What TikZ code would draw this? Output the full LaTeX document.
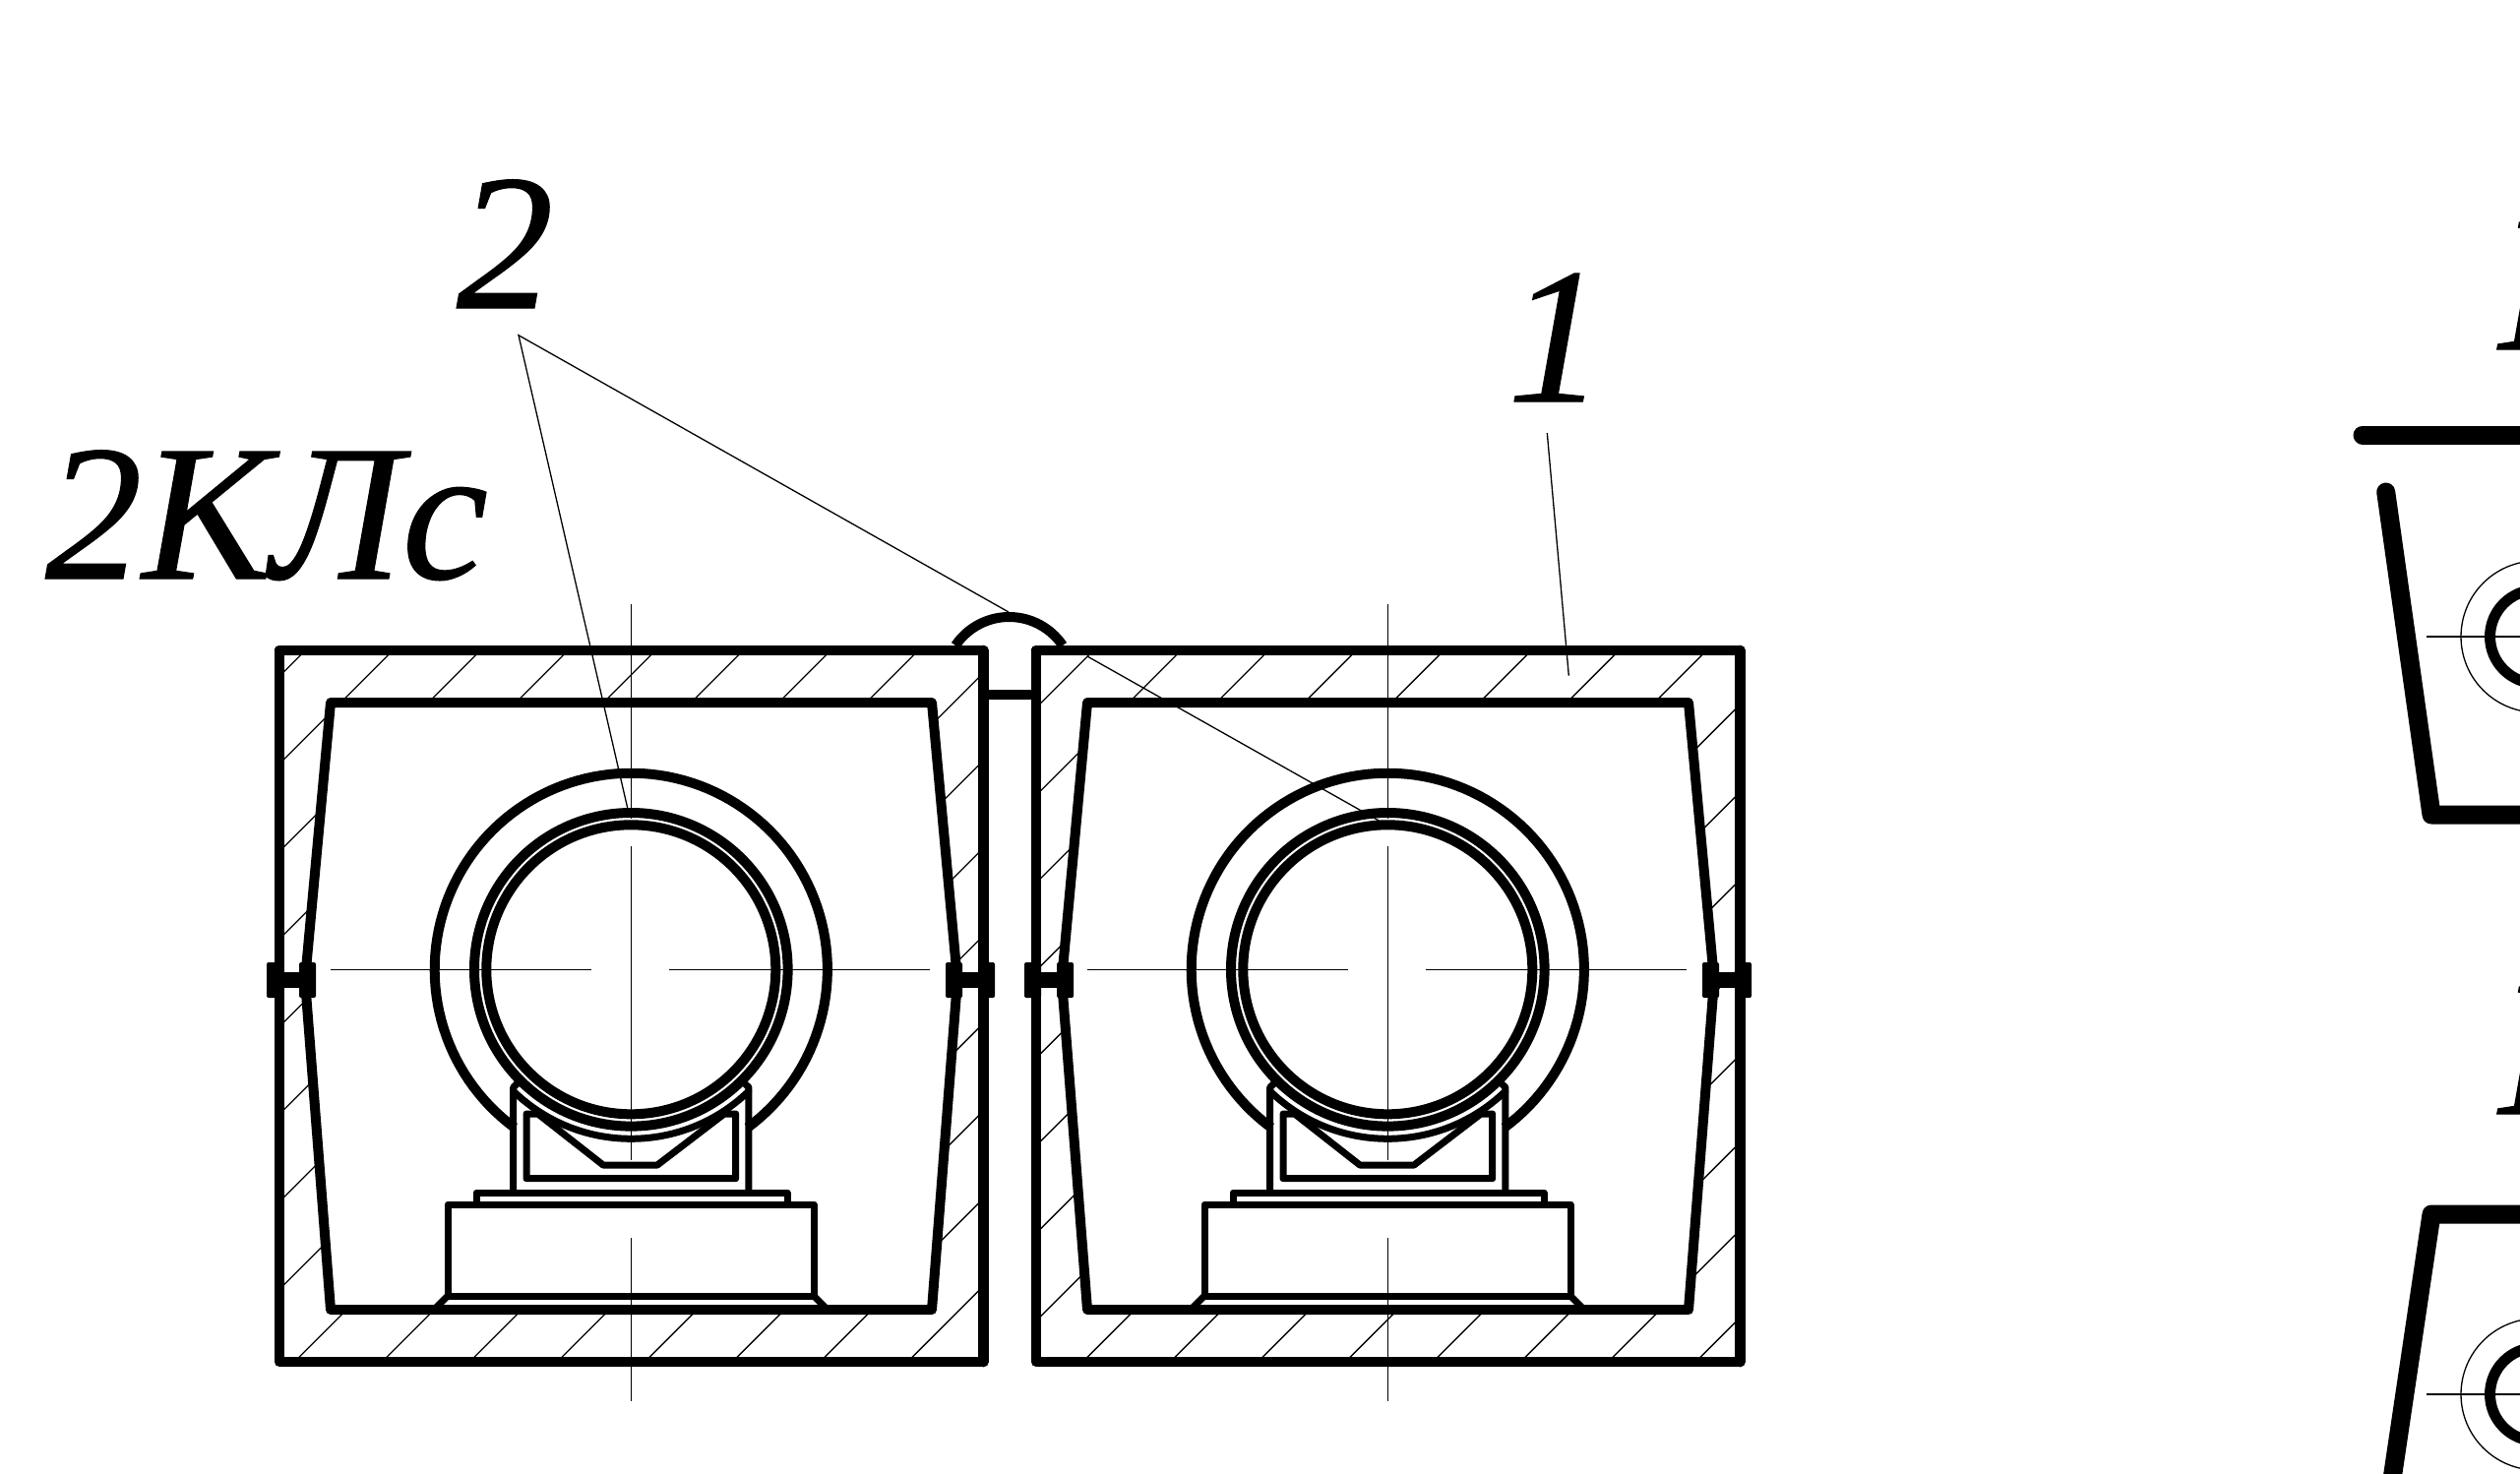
\documentclass[tikz,border=0pt]{standalone}
\usepackage{fontspec}
\setmainfont{Liberation Serif}
\newcommand{\lettersize}{\fontsize{197}{197}\selectfont\itshape\addfontfeature{FakeBold=0.6}}
\tikzset{
  thickline/.style={line width=10pt,line join=round,line cap=round},
  heavyline/.style={line width=10.7pt,line cap=round},
  midline/.style={line width=7pt,line join=round,line cap=round},
  ringline/.style={line width=10pt},
  thinline/.style={line width=1.3pt},
  boldline/.style={line width=19pt,line join=round,line cap=round},
  lettering/.style={inner sep=0pt,outer sep=0pt,anchor=base west,font=\lettersize}
}
\newcommand{\cellbody}[1]{%
  \begin{scope}[xshift=#1pt]
    % hatching
    \begin{scope}[even odd rule]
      \clip (283.7,661) rectangle (999.3,1384)
        (336,714) -- (310,996) -- (336,1331) -- (947,1331) -- (973,996) -- (947,714) -- cycle;
      \foreach \k in {-2,...,24}{
        \draw[thinline] ({1060.3+89*\k-#1-200},200) -- ({1060.3+89*\k-#1-1500},1500);
      }
    \end{scope}
    % centre lines
    \draw[thinline] (641.3,614) -- (641.3,832);
    \draw[thinline] (641.3,860) -- (641.3,1179);
    \draw[thinline] (641.3,1258) -- (641.3,1424);
    \draw[thinline] (335.7,985.3) -- (601,985.3);
    \draw[thinline] (680,985.3) -- (945.4,985.3);
    % outer box
    \draw[thickline] (283.7,661) -- (999.3,661);
    \draw[thickline] (283.7,661) -- (283.7,1384) -- (999.3,1384);
    \draw[heavyline] (999.3,661) -- (999.3,1384);
    % inner frame
    \draw[thickline] (336,714) -- (310,996) -- (336,1331) -- (947,1331) -- (973,996) -- (947,714) -- cycle;
    % rings
    \draw[ringline] plot[domain=126.4:413.6,samples=120] ({641.3+199.6*cos(\x)},{985.3+199.6*sin(\x)});
    \draw[ringline] (641.3,985.3) circle[radius=159.3pt];
    \draw[ringline] (641.3,985.3) circle[radius=147pt];
    \draw[midline] plot[domain=46:134,samples=60] ({641.3+172*cos(\x)},{985.3+172*sin(\x)});
    % cradle
    \draw[midline] (527,1100) -- (521.7,1105) -- (521.7,1212);
    \draw[midline] (755.6,1100) -- (760.9,1105) -- (760.9,1212);
    \draw[midline] (546.7,1132) -- (535,1132) -- (535,1197.7) -- (747.7,1197.7) -- (747.7,1132) -- (736,1132) -- (668,1184) -- (613,1184) -- cycle;
    % plate and base
    \draw[midline] (484,1224) -- (484,1212) -- (800,1212) -- (800,1224);
    \draw[midline] (455,1224) rectangle (827,1317);
    \draw[midline] (455,1317) -- (443,1329);
    \draw[midline] (827,1317) -- (839,1329);
  \end{scope}
}
\newcommand{\lugpair}[1]{%
  \fill[rounded corners=2pt] (#1,978) rectangle ++(17,36);
  \fill[rounded corners=2pt] (#1+33,978) rectangle ++(17,36);
  \fill (#1,988) rectangle ++(50,16);
}
\begin{document}
\begin{tikzpicture}[x=1pt,y=-1pt]
  \useasboundingbox (0,0) rectangle (2561,1497);
  \fill[white] (0,0) rectangle (2561,1497);
  \cellbody{0}
  \cellbody{769}
  % joint between the cells
  \draw[thickline] (999.3,706) -- (1052.7,706);
  \draw[ringline] plot[domain=-146:-34,samples=50] ({1025.5+65.7*cos(\x)},{692.7+65.7*sin(\x)});
  % lugs
  \lugpair{271}
  \lugpair{961}
  \lugpair{1041}
  \lugpair{1730}
  % labels and leaders
  \node[lettering] (type) at (46,588) {2КЛс};
  \node[lettering] (two) at (464,313) {2};
  \node[lettering] (one) at (1532,408) {1};
  \coordinate (apex) at (527,340.7);
  \coordinate (ringA) at (637.8,821.5);
  \coordinate (gapA) at (1025,622);
  \coordinate (gapB) at (1105,667);
  \coordinate (ringB) at (1403,835);
  \coordinate (oneA) at (1572.3,440);
  \coordinate (oneB) at (1594.3,686.7);
  \draw[thinline] (ringA) -- (apex) -- (gapA);
  \draw[thinline] (gapB) -- (ringB);
  \draw[thinline] (oneA) -- (oneB);
  % right-hand fragment
  \draw[boldline] (2401,442) -- (2570,442);
  \draw[boldline] (2424.7,500) -- (2471,828) -- (2570,828);
  \draw[boldline] (2570,1234) -- (2471,1234) -- (2430,1510);
  \foreach \cy in {647,1417}{
    \draw[thinline] (2578,\cy) circle[radius=77pt];
    \draw[line width=11pt] (2578,\cy) circle[radius=47.5pt];
    \draw[thinline] (2466,\cy) -- (2570,\cy);
  }
  \node[lettering] (fragA) at (2540,355) {К};
  \node[lettering] (fragB) at (2540,1132) {К};
\end{tikzpicture}
\end{document}
